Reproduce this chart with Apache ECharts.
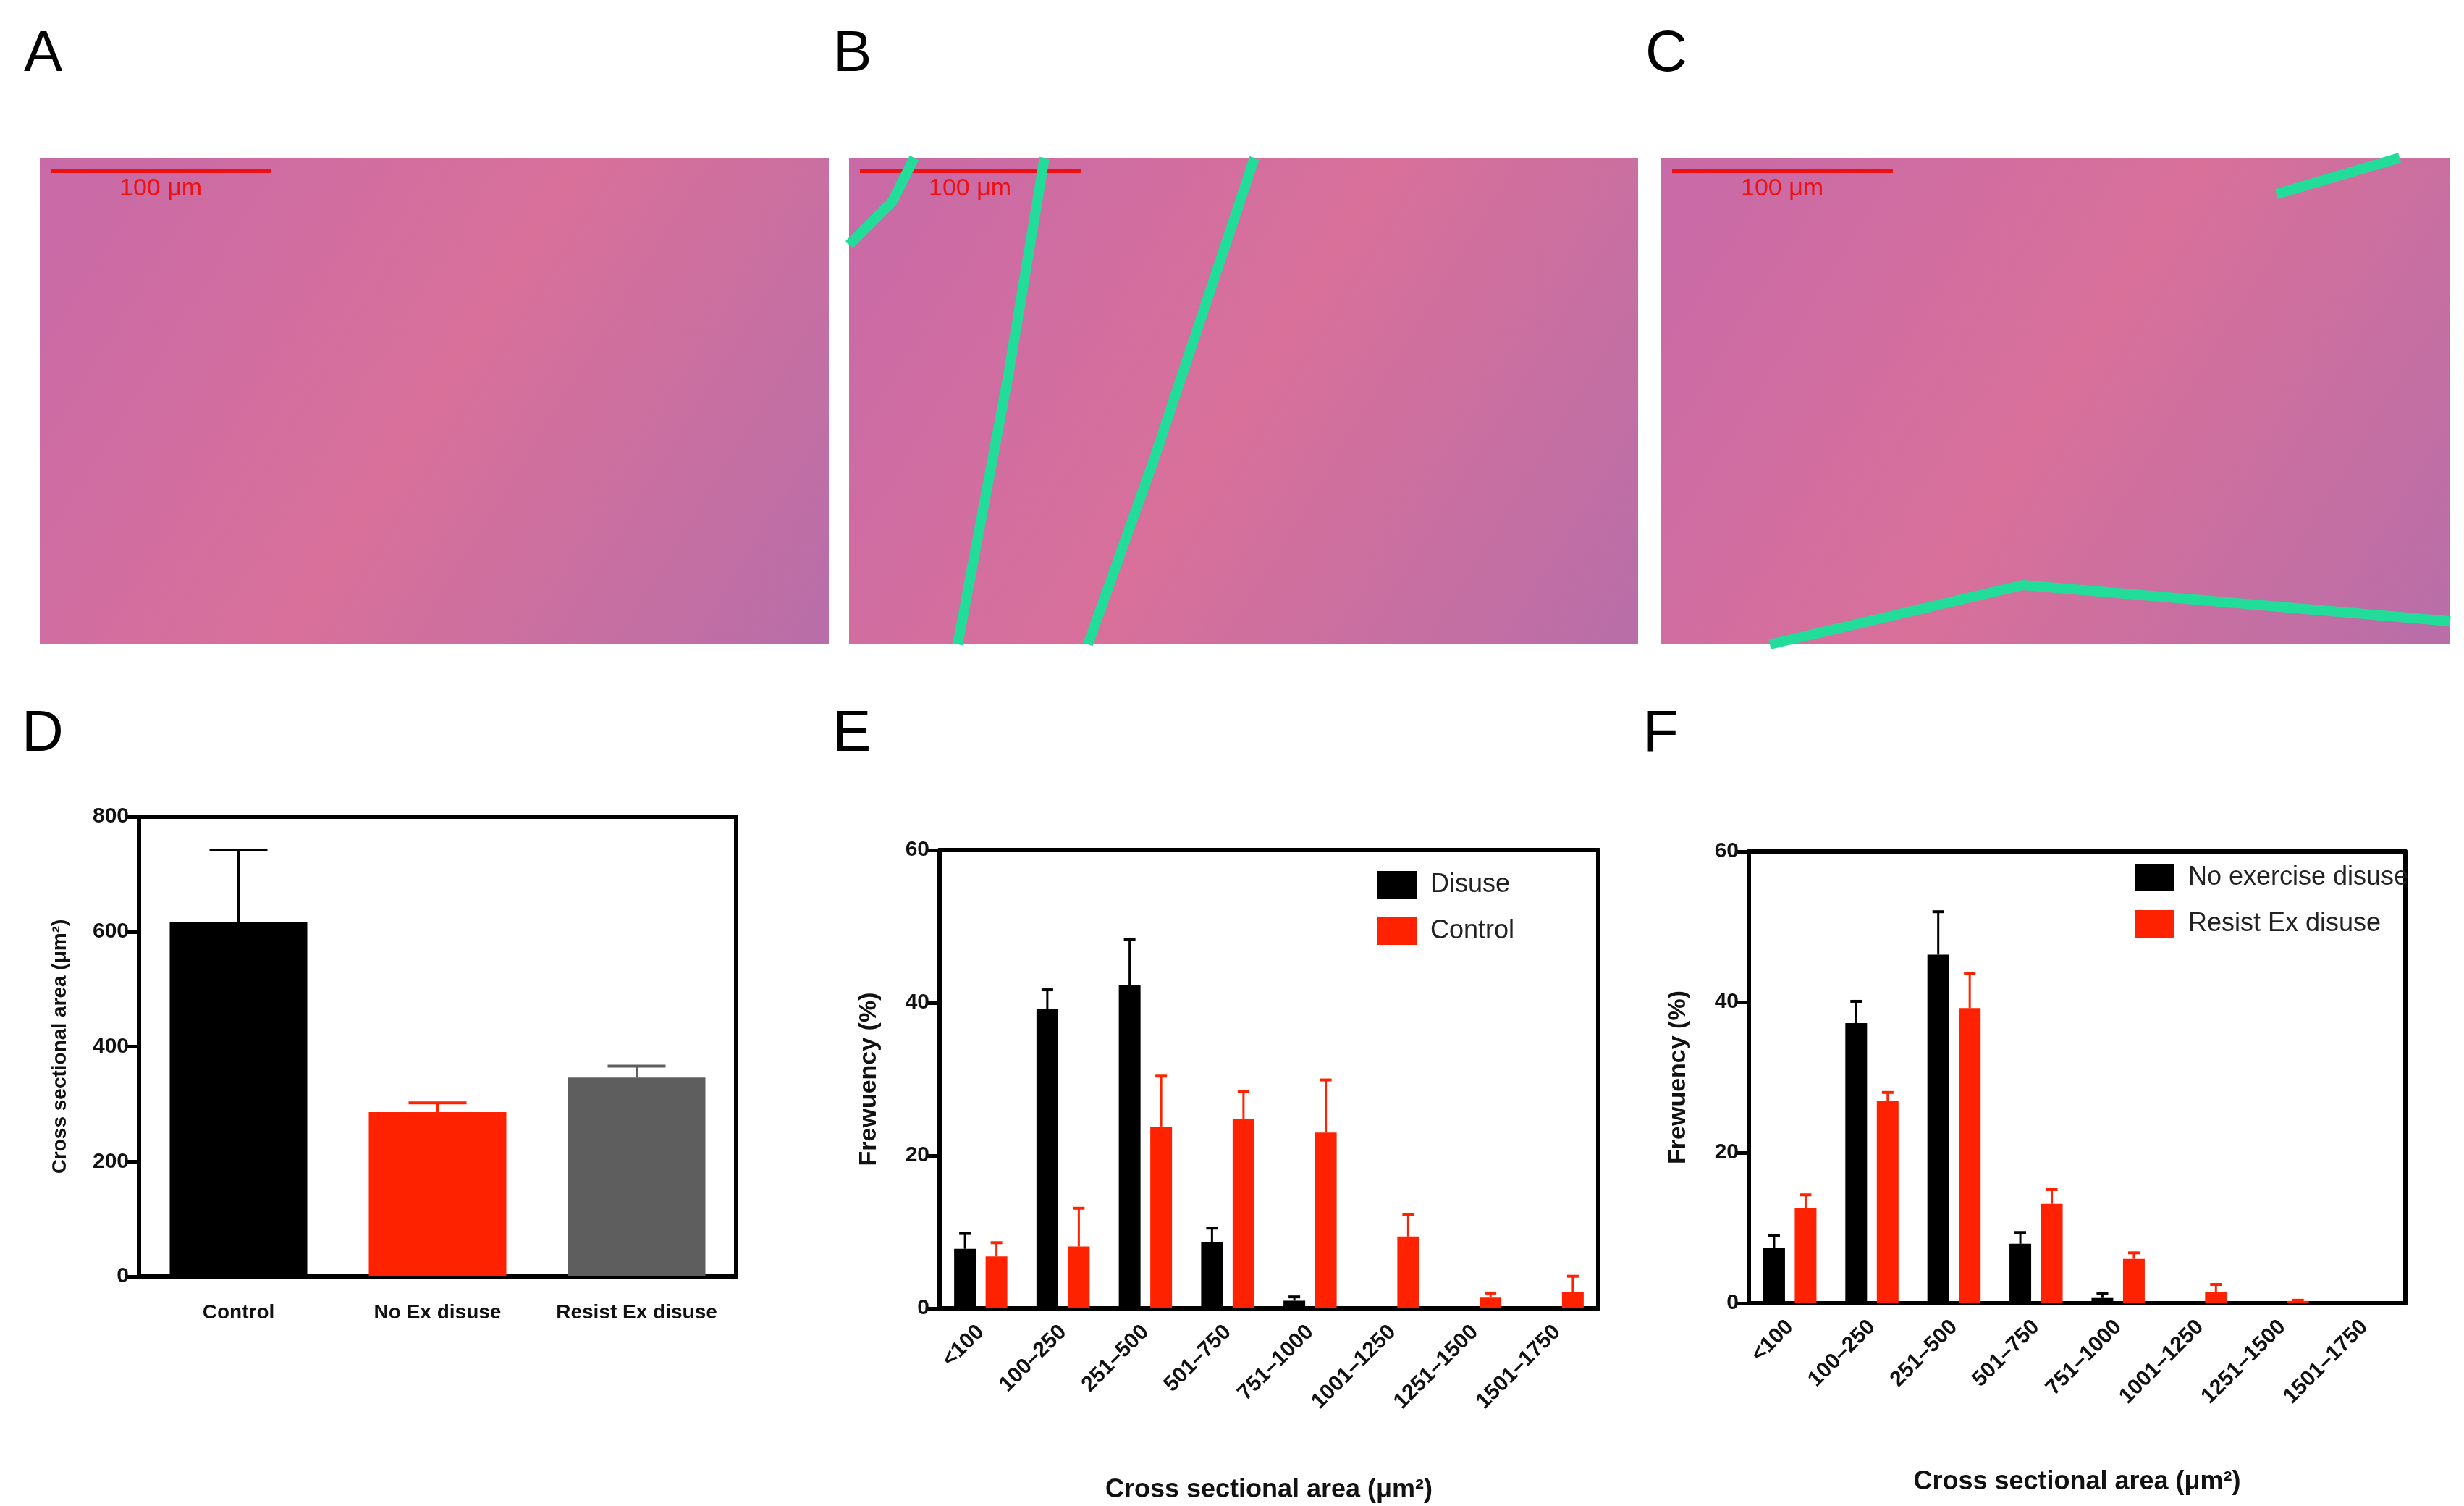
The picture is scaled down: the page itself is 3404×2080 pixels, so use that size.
<!DOCTYPE html>
<html>
<head>
<meta charset="utf-8">
<script src="https://cdn.jsdelivr.net/npm/echarts@6/dist/echarts.min.js"></script>
<style>
  html, body { margin: 0; padding: 0; background: #fff; }
  #main { width: 3404px; height: 2080px; }
</style>
</head>
<body>
<div id="main"></div>
<script>
// 数据
const bins = ['<100', '100–250', '251–500', '501–750', '751–1000', '1001–1250', '1251–1500', '1501–1750']

const csa = {
  cats: ['Control', 'No Ex disuse', 'Resist Ex disuse'],
  mean: [617, 286, 346],
  top: [742, 302, 366],
  colors: ['#000000', '#ff2200', '#5e5e5e']
}

const panelE = {
  black: { name: 'Disuse', mean: [7.8, 39.2, 42.3, 8.7, 1.0, 0, 0, 0], top: [9.8, 41.7, 48.3, 10.5, 1.5, 0, 0, 0] },
  red: { name: 'Control', mean: [6.8, 8.1, 23.8, 24.8, 23.0, 9.4, 1.4, 2.1], top: [8.6, 13.1, 30.4, 28.4, 29.9, 12.3, 2.0, 4.2] }
}

const panelF = {
  black: { name: 'No exercise disuse', mean: [7.3, 37.2, 46.3, 7.9, 0.7, 0, 0, 0], top: [9.0, 40.1, 52.0, 9.4, 1.3, 0, 0, 0] },
  red: { name: 'Resist Ex disuse', mean: [12.6, 26.9, 39.2, 13.2, 5.9, 1.5, 0.3, 0], top: [14.4, 28.0, 43.8, 15.1, 6.7, 2.5, 0.4, 0] }
}

const font = 'Liberation Sans'
const grids = [
  { left: 192, top: 1128, width: 825, height: 635 },
  { left: 1298, top: 1174, width: 910, height: 633 },
  { left: 2416, top: 1176, width: 907, height: 624 }
]

// 误差线
function errSeries(name, gi, means, tops, color, offset, capW) {
  return {
    type: 'custom', name: name + '_err', xAxisIndex: gi, yAxisIndex: gi, z: 1,
    data: means.map((m, i) => [i, m, tops[i]]),
    renderItem(params, api) {
      const m = api.value(1), t = api.value(2)
      if (t <= m) return null
      const p0 = api.coord([api.value(0), m]), p1 = api.coord([api.value(0), t])
      const x = p0[0] + offset
      return {
        type: 'group', children: [
          { type: 'line', shape: { x1: x, y1: p0[1], x2: x, y2: p1[1] }, style: { stroke: color, lineWidth: 3 } },
          { type: 'line', shape: { x1: x - capW / 2, y1: p1[1], x2: x + capW / 2, y2: p1[1] }, style: { stroke: color, lineWidth: 4 } }
        ]
      }
    }
  }
}

function xAxisFor(gi, data, rotate, gap) {
  return {
    type: 'category', gridIndex: gi, data: data,
    axisLine: { lineStyle: { color: '#000', width: 6 } },
    axisTick: { alignWithLabel: true, length: 20, lineStyle: { color: '#000', width: 5 } },
    axisLabel: { color: '#111', fontFamily: font, fontWeight: 'bold', fontSize: rotate ? 30 : 28, rotate: rotate, margin: rotate ? 28 : 36, interval: 0 },
    name: rotate ? 'Cross sectional area (μm²)' : '', nameLocation: 'middle', nameGap: gap,
    nameTextStyle: { color: '#111', fontFamily: font, fontWeight: 'bold', fontSize: 36 }
  }
}

function yAxisFor(gi, max, interval, name, gap, fs) {
  return {
    type: 'value', gridIndex: gi, min: 0, max: max, interval: interval,
    splitLine: { show: false },
    axisLine: { show: true, lineStyle: { color: '#000', width: 6 } },
    axisTick: { show: true, length: 16, lineStyle: { color: '#000', width: 5 } },
    axisLabel: { color: '#111', fontFamily: font, fontWeight: 'bold', fontSize: 30, margin: 14 },
    name: name, nameLocation: 'middle', nameGap: gap,
    nameTextStyle: { color: '#111', fontFamily: font, fontWeight: 'bold', fontSize: fs }
  }
}

// 右边、上边的框线
function boxAxes(gi) {
  return [
    { type: 'value', gridIndex: gi, position: 'right', axisLine: { show: true, onZero: false, lineStyle: { color: '#000', width: 6 } }, axisTick: { show: false }, axisLabel: { show: false }, splitLine: { show: false } },
    { type: 'category', data: [''], gridIndex: gi, position: 'top', axisLine: { show: true, onZero: false, lineStyle: { color: '#000', width: 6 } }, axisTick: { show: false }, axisLabel: { show: false }, splitLine: { show: false } }
  ]
}

function histSeries(gi, p) {
  return [
    { type: 'bar', name: p.black.name, xAxisIndex: gi, yAxisIndex: gi, data: p.black.mean, barWidth: 30, barGap: '45%', itemStyle: { color: '#000' }, z: 2 },
    { type: 'bar', name: p.red.name, xAxisIndex: gi, yAxisIndex: gi, data: p.red.mean, barWidth: 30, barGap: '45%', itemStyle: { color: '#ff2200' }, z: 2 },
    errSeries(p.black.name, gi, p.black.mean, p.black.top, '#000', -21.75, 16),
    errSeries(p.red.name, gi, p.red.mean, p.red.top, '#ff2200', 21.75, 16)
  ]
}

// 显微图占位
function micro(x, label, greens) {
  const w = 1090, h = 672, y = 218
  const items = [
    { type: 'text', left: x - 22, top: 36, style: { text: label, font: '80px "Liberation Sans"', fill: '#000' } },
    { type: 'rect', shape: { x: x, y: y, width: w, height: h }, style: { fill: new echarts.graphic.LinearGradient(0, 0, 1, 1, [{ offset: 0, color: '#c86aa8' }, { offset: 0.5, color: '#d8709a' }, { offset: 1, color: '#b86ea8' }]) } },
    { type: 'line', shape: { x1: x + 15, y1: y + 18, x2: x + 320, y2: y + 18 }, style: { stroke: '#ee1111', lineWidth: 6 } },
    { type: 'text', left: x + 110, top: y + 26, style: { text: '100 μm', font: '34px "Liberation Sans"', fill: '#ee1111' } }
  ]
  greens.forEach(g => items.push({ type: 'polyline', shape: { points: g.map(p => [x + p[0], y + p[1]]) }, style: { stroke: '#22dd99', lineWidth: 14, fill: null } }))
  return items
}

const chart = echarts.init(document.getElementById('main'))
const xAxes = [xAxisFor(0, csa.cats, 0, 0), xAxisFor(1, bins, 45, 233), xAxisFor(2, bins, 45, 229)]
const yAxes = [
  yAxisFor(0, 800, 200, 'Cross sectional area (μm²)', 95, 28),
  yAxisFor(1, 60, 20, 'Frewuency (%)', 80, 34),
  yAxisFor(2, 60, 20, 'Frewuency (%)', 80, 34)
]
boxAxes(0).concat(boxAxes(1), boxAxes(2)).forEach(a => {
  if (a.position === 'right') yAxes.push(a)
  else xAxes.push(a)
})

chart.setOption({
  animation: false,
  backgroundColor: '#fff',
  grid: grids,
  xAxis: xAxes,
  yAxis: yAxes,
  legend: [
    { data: [panelE.black.name, panelE.red.name], orient: 'vertical', left: 1898, top: 1198, itemWidth: 54, itemHeight: 38, itemGap: 26, icon: 'rect', textStyle: { fontFamily: font, fontSize: 36, color: '#222', padding: [0, 0, 0, 14] } },
    { data: [panelF.black.name, panelF.red.name], orient: 'vertical', left: 2945, top: 1188, itemWidth: 54, itemHeight: 38, itemGap: 26, icon: 'rect', textStyle: { fontFamily: font, fontSize: 36, color: '#222', padding: [0, 0, 0, 14] } }
  ],
  graphic: [].concat(
    micro(55, 'A', []),
    micro(1173, 'B', [[[0, 120], [60, 60], [90, 0]], [[150, 672], [220, 300], [270, 0]], [[330, 672], [420, 420], [560, 0]]]),
    micro(2295, 'C', [[[150, 672], [500, 590], [1090, 640]], [[850, 50], [1020, 0]]]),
    [
      { type: 'text', left: 30, top: 975, style: { text: 'D', font: '80px "Liberation Sans"', fill: '#000' } },
      { type: 'text', left: 1150, top: 975, style: { text: 'E', font: '80px "Liberation Sans"', fill: '#000' } },
      { type: 'text', left: 2270, top: 975, style: { text: 'F', font: '80px "Liberation Sans"', fill: '#000' } }
    ]
  ),
  series: [
    { type: 'bar', name: 'CSA', xAxisIndex: 0, yAxisIndex: 0, barWidth: 190, z: 2,
      data: csa.mean.map((v, i) => ({ value: v, itemStyle: { color: csa.colors[i] } })) },
    {
      type: 'custom', name: 'CSA_err', xAxisIndex: 0, yAxisIndex: 0, z: 1,
      data: csa.mean.map((m, i) => [i, m, csa.top[i]]),
      renderItem(params, api) {
        const p0 = api.coord([api.value(0), api.value(1)]), p1 = api.coord([api.value(0), api.value(2)])
        const c = csa.colors[params.dataIndex]
        return { type: 'group', children: [
          { type: 'line', shape: { x1: p0[0], y1: p0[1], x2: p1[0], y2: p1[1] }, style: { stroke: c, lineWidth: 3 } },
          { type: 'line', shape: { x1: p1[0] - 40, y1: p1[1], x2: p1[0] + 40, y2: p1[1] }, style: { stroke: c, lineWidth: 4 } }
        ] }
      }
    }
  ].concat(histSeries(1, panelE), histSeries(2, panelF))
})
</script>
</body>
</html>
